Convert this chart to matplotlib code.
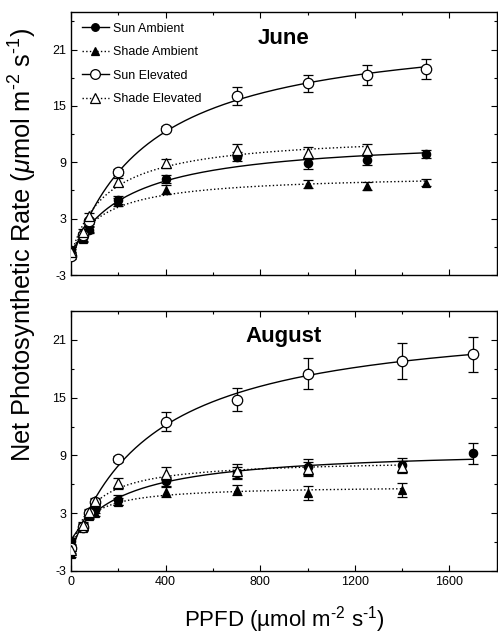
import numpy as np
import matplotlib
matplotlib.use("Agg")
import matplotlib.pyplot as plt
from matplotlib.ticker import MultipleLocator

plt.rcParams['font.family'] = ['Liberation Sans', 'DejaVu Sans']
plt.rcParams['mathtext.fontset'] = 'custom'
plt.rcParams['mathtext.rm'] = 'Liberation Sans'
plt.rcParams['mathtext.it'] = 'Liberation Sans:italic'
plt.rcParams['axes.unicode_minus'] = False

# ---------------- data: June ----------------
jun_sun_amb_x = [0, 50, 75, 200, 400, 700, 1000, 1250, 1500]
jun_sun_amb_y = [-0.3, 0.9, 1.8, 5.0, 7.2, 9.6, 8.9, 9.3, 9.9]
jun_sun_amb_e = [0.3, 0.3, 0.3, 0.4, 0.4, 0.5, 0.6, 0.6, 0.4]

jun_shade_amb_x = [0, 50, 75, 200, 400, 1000, 1250, 1500]
jun_shade_amb_y = [-0.3, 0.8, 1.9, 4.8, 6.1, 6.7, 6.5, 6.85]
jun_shade_amb_e = [0.3, 0.3, 0.3, 0.4, 0.5, 0.45, 0.45, 0.4]

jun_sun_elev_x = [0, 50, 75, 200, 400, 700, 1000, 1250, 1500]
jun_sun_elev_y = [-1.0, 1.3, 2.7, 8.0, 12.6, 16.1, 17.4, 18.3, 18.9]
jun_sun_elev_e = [0.3, 0.3, 0.3, 0.3, 0.3, 0.95, 0.9, 1.05, 1.05]

jun_shade_elev_x = [0, 50, 75, 200, 400, 700, 1000, 1250]
jun_shade_elev_y = [-0.5, 1.6, 3.3, 6.9, 8.9, 10.3, 10.0, 10.3]
jun_shade_elev_e = [0.3, 0.3, 0.3, 0.4, 0.5, 0.6, 0.6, 0.6]

# ---------------- data: August ----------------
aug_sun_amb_x = [0, 50, 75, 100, 200, 400, 700, 1000, 1400, 1700]
aug_sun_amb_y = [0.1, 1.7, 2.8, 3.3, 4.4, 6.3, 7.2, 7.8, 8.0, 9.2]
aug_sun_amb_e = [0.3, 0.3, 0.3, 0.3, 0.5, 0.5, 0.6, 0.8, 0.7, 1.1]

aug_shade_amb_x = [0, 50, 75, 100, 200, 400, 700, 1000, 1400]
aug_shade_amb_y = [-1.2, 1.5, 2.7, 3.0, 4.2, 5.2, 5.4, 5.1, 5.4]
aug_shade_amb_e = [0.3, 0.3, 0.3, 0.3, 0.4, 0.5, 0.5, 0.7, 0.7]

aug_sun_elev_x = [0, 50, 75, 100, 200, 400, 700, 1000, 1400, 1700]
aug_sun_elev_y = [-0.6, 1.6, 3.0, 4.2, 8.6, 12.5, 14.8, 17.5, 18.8, 19.5]
aug_sun_elev_e = [0.3, 0.3, 0.3, 0.3, 0.3, 1.0, 1.15, 1.65, 1.9, 1.8]

aug_shade_elev_x = [0, 50, 75, 100, 200, 400, 700, 1000, 1400]
aug_shade_elev_y = [-0.8, 1.8, 3.1, 4.3, 6.1, 7.1, 7.4, 7.6, 7.8]
aug_shade_elev_e = [0.3, 0.3, 0.3, 0.3, 0.6, 0.7, 0.7, 0.7, 0.6]

series_labels = ["Sun Ambient", "Shade Ambient", "Sun Elevated", "Shade Elevated"]
panel_titles = ["June", "August"]
y_major_ticks = [-3, 3, 9, 15, 21]
y_minor_ticks = [0, 6, 12, 18, 24]
x_major_ticks = [0, 400, 800, 1200, 1600]


def fit_curve(x, y):
    """Least-squares rectangular hyperbola y = a*x/(x+K) + c fitted to the points."""
    x = np.asarray(x, float)
    y = np.asarray(y, float)
    best = None
    for K in np.logspace(1, 4, 600):
        A = np.column_stack([x / (x + K), np.ones_like(x)])
        coef, *_ = np.linalg.lstsq(A, y, rcond=None)
        r = np.sum((A @ coef - y) ** 2)
        if best is None or r < best[0]:
            best = (r, K, coef)
    _, K, coef = best
    xs = np.linspace(x.min(), x.max(), 300)
    return xs, coef[0] * xs / (xs + K) + coef[1]


styles = [
    dict(marker='o', mfc='black', mec='black', ms=6, ls='-'),
    dict(marker='^', mfc='black', mec='black', ms=6, ls=':'),
    dict(marker='o', mfc='white', mec='black', ms=7.5, ls='-'),
    dict(marker='^', mfc='white', mec='black', ms=7, ls=':'),
]

fig = plt.figure(figsize=(4.98, 6.34), dpi=100)
ax1 = fig.add_axes([0.1426, 0.5662, 0.855, 0.4148])
ax2 = fig.add_axes([0.1426, 0.0994, 0.855, 0.4101])

panels = [
    (ax1, [(jun_sun_amb_x, jun_sun_amb_y, jun_sun_amb_e),
           (jun_shade_amb_x, jun_shade_amb_y, jun_shade_amb_e),
           (jun_sun_elev_x, jun_sun_elev_y, jun_sun_elev_e),
           (jun_shade_elev_x, jun_shade_elev_y, jun_shade_elev_e)], (-3, 25)),
    (ax2, [(aug_sun_amb_x, aug_sun_amb_y, aug_sun_amb_e),
           (aug_shade_amb_x, aug_shade_amb_y, aug_shade_amb_e),
           (aug_sun_elev_x, aug_sun_elev_y, aug_sun_elev_e),
           (aug_shade_elev_x, aug_shade_elev_y, aug_shade_elev_e)], (-3, 24)),
]

for pi, (ax, data, ylim) in enumerate(panels):
    for si, (x, y, e) in enumerate(data):
        st = styles[si]
        xs, ys = fit_curve(x, y)
        ax.plot(xs, ys, color='black', lw=1.0, ls=st['ls'], zorder=2)
        ax.errorbar(x, y, yerr=e, fmt='none', ecolor='black', elinewidth=0.9,
                    capsize=3.5, capthick=0.9, zorder=3)
        ax.plot(x, y, ls='none', marker=st['marker'], mfc=st['mfc'],
                mec=st['mec'], ms=st['ms'], mew=0.9, zorder=4)
    ax.set_xlim(0, 1800)
    ax.set_ylim(*ylim)
    ax.set_xticks(x_major_ticks)
    ax.xaxis.set_minor_locator(MultipleLocator(200))
    ax.set_yticks(y_major_ticks)
    ax.set_yticks(y_minor_ticks, minor=True)
    ax.tick_params(which='both', direction='in', top=True, right=True, labelsize=9)
    ax.tick_params(which='major', length=4, width=0.8)
    ax.tick_params(which='minor', length=2.5, width=0.8)
    for sp in ax.spines.values():
        sp.set_linewidth(1.0)
    ax.text(0.5, 0.9, panel_titles[pi], transform=ax.transAxes,
            ha='center', va='center', fontsize=16, fontweight='bold')

ax1.set_xticklabels([])

# legend in top panel
handles = []
for si, st in enumerate(styles):
    h, = ax1.plot([], [], color='black', lw=1.0, ls=st['ls'], marker=st['marker'],
                  mfc=st['mfc'], mec=st['mec'], ms=st['ms'] - 0.5, mew=0.9)
    handles.append(h)
ax1.legend(handles, series_labels, loc='upper left', frameon=False, fontsize=9,
           handlelength=2.2, handletextpad=0.3, labelspacing=0.92,
           borderaxespad=0.45, bbox_to_anchor=(0.0, 1.0))

fig.text(0.045, 0.6136,
         r'Net Photosynthetic Rate ($\mu$mol m$^{\text{-2}}$ s$^{\text{-1}}$)',
         rotation=90, ha='center', va='center', fontsize=18.3)
fig.text(0.572, 0.023, 'PPFD (\u00b5mol m$^{\\text{-2}}$ s$^{\\text{-1}}$)',
         ha='center', va='center', fontsize=16)

fig.savefig('out.png', dpi=100)
